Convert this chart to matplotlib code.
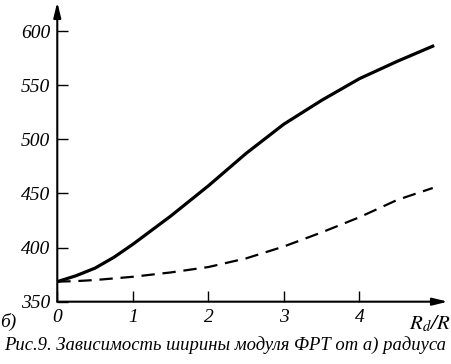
import matplotlib
matplotlib.use("Agg")
import matplotlib.pyplot as plt

plt.rcParams['font.family'] = ['Liberation Serif', 'DejaVu Serif']
plt.rcParams['font.style'] = 'italic'
plt.rcParams['mathtext.fontset'] = 'stix'

# values
r_ratio = [0, 0.25, 0.5, 0.75, 1.0, 1.5, 2.0, 2.5, 3.0, 3.5, 4.0, 4.5, 4.97]
width_solid = [368.5, 374, 381, 391, 403, 429, 457, 487, 514, 536, 556, 572, 586]
width_dashed = [368.5, 369, 370, 371.5, 373, 377, 382, 390, 401, 414, 428, 444, 455]

x_ticks = [0, 1, 2, 3, 4]
y_ticks = [350, 400, 450, 500, 550, 600]

fig = plt.figure(figsize=(4.51, 3.64), dpi=100)
ax = fig.add_axes([0.127, 0.1712, 0.866, 0.823])

ax.plot(r_ratio, width_solid, color='black', lw=2.3, solid_joinstyle='round')
ax.plot(r_ratio, width_dashed, color='black', lw=1.6, dashes=(6, 3.5))

ax.set_xlim(0, 5.17)
ax.set_ylim(350, 626.7)
ax.set_xticks(x_ticks)
ax.set_yticks(y_ticks)
ax.set_xticklabels([str(t) for t in x_ticks])
ax.set_yticklabels([str(t) for t in y_ticks])
ax.tick_params(direction='in', length=8, width=1, labelsize=14)
ax.tick_params(axis='x', pad=5)
ax.tick_params(axis='y', pad=5)

for s in ax.spines.values():
    s.set_visible(False)

# axes with arrows
arrow = dict(arrowstyle='-|>,head_length=0.9,head_width=0.22', lw=1.5, color='black',
             shrinkA=0, shrinkB=0)
ax.annotate('', xy=(1, 0), xytext=(0, 0), xycoords='axes fraction', arrowprops=arrow)
ax.annotate('', xy=(0, 1), xytext=(0, 0), xycoords='axes fraction', arrowprops=arrow)

ax.text(4.66, -0.075, r'$R_d/R$', transform=ax.get_xaxis_transform(),
        fontsize=15, ha='left', va='center')

fig.text(0.0, 0.115, 'б)', fontsize=14, ha='left', va='center')
fig.text(0.5, 0.052, 'Рис.9. Зависимость ширины модуля ФРТ от а) радиуса',
         fontsize=13.4, ha='center', va='center')

fig.savefig('out.png', dpi=100)
